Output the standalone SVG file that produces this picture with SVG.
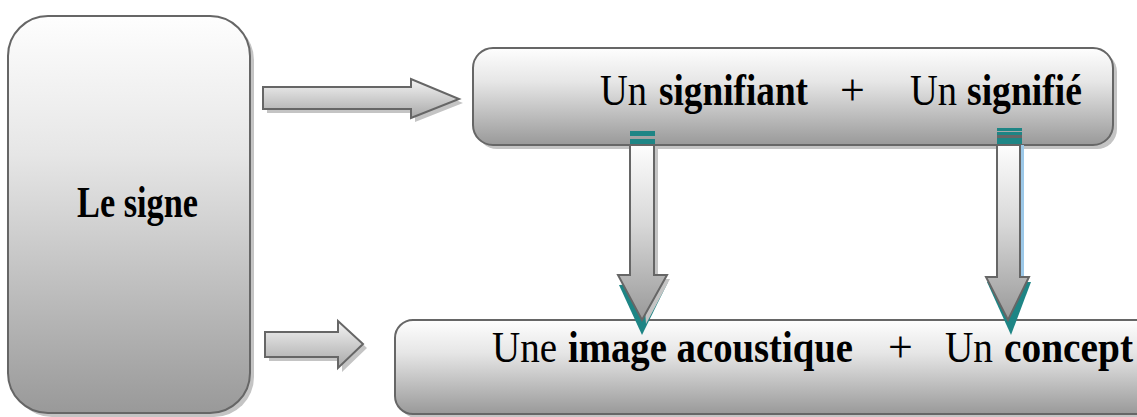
<svg xmlns="http://www.w3.org/2000/svg" width="1137" height="417" viewBox="0 0 1137 417">
<defs>
<linearGradient id="boxg" x1="0" y1="0" x2="0" y2="1">
<stop offset="0" stop-color="#fefefe"/><stop offset="0.35" stop-color="#e6e6e6"/><stop offset="1" stop-color="#999999"/>
</linearGradient>
<linearGradient id="arrg" x1="0" y1="0" x2="0" y2="1">
<stop offset="0" stop-color="#f4f4f4"/><stop offset="1" stop-color="#a8a8a8"/>
</linearGradient>
<linearGradient id="darrg" x1="0" y1="0" x2="0" y2="1">
<stop offset="0" stop-color="#fdfdfd"/><stop offset="0.45" stop-color="#d8d8d8"/><stop offset="1" stop-color="#999999"/>
</linearGradient>
<style>
.box{fill:url(#boxg);stroke:#666;stroke-width:2}
.shadow{fill:#c4c4c4}
.arr{fill:url(#arrg);stroke:#666;stroke-width:2;stroke-linejoin:miter}
.darr{fill:url(#darrg);stroke:#666;stroke-width:2}
.teal{fill:#1e8585}
text{font-family:"Liberation Serif","Times New Roman",serif;font-size:44px;fill:#000}
.b{font-weight:bold}
</style>
</defs>

<g id="le-signe">
<rect class="shadow" x="12" y="20" width="242" height="397" rx="40"/>
<rect class="box" x="8" y="16" width="242" height="397" rx="40"/>
<text class="b" x="77" y="217" font-size="36" textLength="121" lengthAdjust="spacingAndGlyphs">Le signe</text>
</g>

<g id="signifiant-signifie">
<rect class="shadow" x="477" y="52" width="640" height="97" rx="20"/>
<rect class="box" x="473" y="48" width="640" height="97" rx="20"/>
<text x="600" y="105" textLength="47" lengthAdjust="spacingAndGlyphs">Un</text>
<text class="b" x="659" y="105" textLength="149" lengthAdjust="spacingAndGlyphs">signifiant</text>
<text x="840" y="105">+</text>
<text x="910" y="105" textLength="47" lengthAdjust="spacingAndGlyphs">Un</text>
<text class="b" x="967" y="105" textLength="115" lengthAdjust="spacingAndGlyphs">signifié</text>
</g>

<g id="image-concept">
<rect class="shadow" x="399" y="324" width="760" height="94" rx="18"/>
<rect class="box" x="395" y="320" width="760" height="94" rx="18"/>
<text x="492" y="362" textLength="65" lengthAdjust="spacingAndGlyphs">Une</text>
<text class="b" x="568" y="362" textLength="285" lengthAdjust="spacingAndGlyphs">image acoustique</text>
<text x="888" y="362">+</text>
<text x="945" y="362" textLength="48" lengthAdjust="spacingAndGlyphs">Un</text>
<text class="b" x="1004" y="362" textLength="129" lengthAdjust="spacingAndGlyphs">concept</text>
</g>

<g id="connectors">
<polygon class="shadow" points="267,91 415,91 415,83 463,103 415,122 415,113 267,113"/>
<polygon class="arr" points="263,87 411,87 411,79 459,99 411,118 411,109 263,109"/>
<polygon class="shadow" points="269,336 342,336 342,325 367,348 342,372 342,361 269,361"/>
<polygon class="arr" points="265,332 338,332 338,321 363,344 338,368 338,357 265,357"/>
<polygon class="teal" points="619,285 668,282 642,335"/>
<polygon class="shadow" points="634,149 658,149 658,279 670,279 646,324"/>
<polygon class="darr" points="630,145 654,145 654,275 667,275 642,320 618,275 630,275"/>
<rect class="teal" x="630" y="131" width="25" height="5"/>
<rect class="teal" x="630" y="139" width="25" height="5"/>
<polygon class="teal" points="987,282 1031,282 1011,335"/>
<rect x="1020" y="145" width="4" height="132" fill="#9cc8e8"/>
<polygon class="darr" points="997,145 1020,145 1020,277 1029,277 1008,320 986,277 997,277"/>
<rect class="teal" x="997" y="128" width="25" height="3"/>
<rect class="teal" x="997" y="132" width="25" height="3"/>
<rect x="997" y="135" width="25" height="3" fill="#666"/>
<rect class="teal" x="997" y="138" width="25" height="6"/>
</g>
</svg>
